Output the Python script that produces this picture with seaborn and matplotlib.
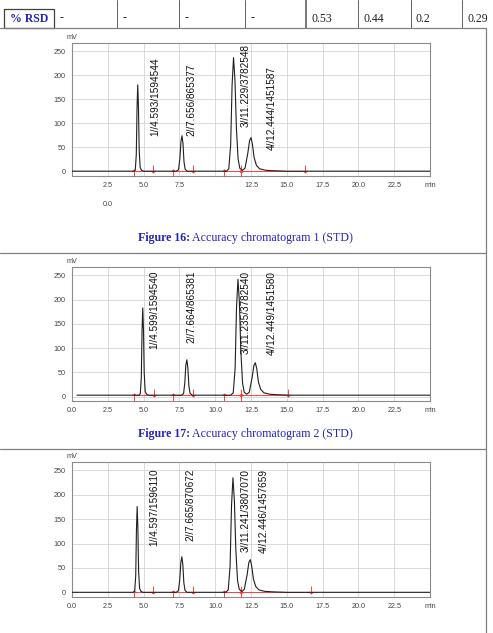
import numpy as np
import pandas as pd
import matplotlib.pyplot as plt
import seaborn as sns

sns.set_style("white")
plt.rcParams["font.family"] = ["Liberation Sans", "DejaVu Sans"]

## ---------------- data ----------------
# table row at the top of the page
rsd_cells = ["-", "-", "-", "-", "0.53", "0.44", "0.2", "0.29"]

# chromatogram traces (time in min, signal in mV)
t1 = [0, 4.33, 4.42, 4.49, 4.54, 4.59, 4.64, 4.69, 4.76, 4.85, 5.0,
      7.28, 7.44, 7.53, 7.61, 7.68, 7.75, 7.82, 7.9, 8.05,
      10.78, 10.95, 11.08, 11.18, 11.28, 11.38, 11.48, 11.6, 11.72, 11.9,
      12.08, 12.28, 12.4, 12.5, 12.6, 12.72, 12.88, 13.1, 13.5, 14.0, 15.0, 25.0]
y1 = [0, 0, 3, 35, 130, 180, 135, 45, 8, 2, 0,
      0, 3, 26, 62, 74, 58, 20, 4, 0,
      0, 5, 55, 180, 237, 190, 90, 25, 6, 2,
      6, 38, 64, 70, 56, 28, 12, 5, 2, 1, 0, 0]

t2 = [0.35, 4.68, 4.77, 4.84, 4.89, 4.94, 4.99, 5.04, 5.11, 5.2, 5.35,
      7.63, 7.79, 7.88, 7.95, 8.02, 8.09, 8.16, 8.24, 8.4,
      11.09, 11.26, 11.39, 11.49, 11.59, 11.69, 11.79, 11.91, 12.03, 12.2,
      12.38, 12.58, 12.7, 12.8, 12.9, 13.02, 13.18, 13.4, 13.8, 14.3, 15.3, 25.0]
y2 = [3, 3, 6, 40, 135, 183, 140, 50, 11, 5, 3,
      3, 6, 29, 65, 76, 60, 23, 7, 3,
      3, 8, 58, 185, 242, 195, 95, 28, 9, 5,
      9, 40, 64, 70, 58, 30, 15, 8, 5, 4, 3, 3]

t3 = [0, 4.29, 4.38, 4.45, 4.5, 4.55, 4.6, 4.65, 4.72, 4.81, 4.95,
      7.27, 7.43, 7.52, 7.6, 7.67, 7.74, 7.81, 7.89, 8.04,
      10.74, 10.91, 11.04, 11.14, 11.24, 11.34, 11.44, 11.56, 11.68, 11.86,
      12.03, 12.23, 12.35, 12.45, 12.55, 12.67, 12.83, 13.05, 13.45, 14.0, 15.0, 25.0]
y3 = [0, 0, 3, 34, 127, 176, 132, 44, 8, 2, 0,
      0, 3, 25, 61, 73, 57, 20, 4, 0,
      0, 5, 54, 178, 235, 188, 88, 24, 6, 2,
      6, 36, 61, 67, 54, 27, 12, 5, 2, 1, 0, 0]

# integration start / end marks (min)
starts1 = [4.36, 7.06, 10.6, 11.82]
ends1 = [5.64, 8.48, 11.82, 16.3]
starts2 = [4.34, 7.08, 10.58, 11.82]
ends2 = [5.76, 8.44, 11.82, 15.06]
starts3 = [4.34, 7.08, 10.58, 11.82]
ends3 = [5.69, 8.48, 11.82, 16.7]

# peak labels: peak/retention time/area
labels1 = ["1//4.593/1594544", "2//7.656/865377", "3//11.229/3782548", "4//12.444/1451587"]
labels2 = ["1//4.599/1594540", "2//7.664/865381", "3//11.235/3782540", "4//12.449/1451580"]
labels3 = ["1//4.597/1596110", "2//7.665/870672", "3//11.241/3807070", "4//12.446/1457659"]
label_x1 = [5.8, 8.37, 12.1, 13.97]
label_y1 = [74, 73, 93, 45]        # bottom of text
label_x2 = [5.76, 8.32, 12.1, 13.97]
label_y2 = [260, 260, 260, 260]    # top of text
label_x3 = [5.76, 8.25, 12.1, 13.38]
label_y3 = [254, 254, 254, 254]    # top of text

x_ticks = [0, 2.5, 5.0, 7.5, 10.0, 12.5, 15.0, 17.5, 20.0, 22.5, 25.0]
x_labels_full = ["0.0", "2.5", "5.0", "7.5", "10.0", "12.5", "15.0", "17.5", "20.0", "22.5", "min"]
x_labels_1 = ["", "2.5", "5.0", "7.5", "", "12.5", "15.0", "17.5", "20.0", "22.5", "min"]
y_ticks = [0, 50, 100, 150, 200, 250]

captions = [("Figure 16:", "Accuracy chromatogram 1 (STD)"),
            ("Figure 17:", "Accuracy chromatogram 2 (STD)")]

## ---------------- figure ----------------
W, H = 493, 633
fig = plt.figure(figsize=(W / 100, H / 100), dpi=100)
fig.patch.set_facecolor("white")

# page layer in pixel coordinates
page = fig.add_axes([0, 0, 1, 1])
page.set_xlim(0, W)
page.set_ylim(H, 0)
page.axis("off")

blue = "#2424b8"
serif = ["Liberation Serif", "DejaVu Serif"]

# table row
cell_lines = [54.3, 116.7, 179, 245, 306, 358.3, 410.5, 462.2]
for xv in cell_lines[1:]:
    lw = 1.2 if xv == 306 else 0.7
    page.plot([xv, xv], [0, 28.3], color="#606060", lw=lw)
page.plot([4, 54.3, 54.3, 4, 4], [8.5, 8.5, 28.3, 28.3, 8.5], color="#404040", lw=0.9)
page.plot([0, 486], [28.3, 28.3], color="#808080", lw=0.9)
page.text(29, 18.5, "% RSD", family=serif, fontsize=8.5, fontweight="bold",
          color=blue, ha="center", va="center")
cell_text_x = [60, 122.5, 184.5, 250.5, 311.5, 363.5, 415, 467.5]
for xv, s in zip(cell_text_x, rsd_cells):
    page.text(xv, 18.5, s, family=serif, fontsize=8.5, color="#222222",
              ha="left", va="center")

# right page border and separators
page.plot([486, 486], [28.3, H], color="#808080", lw=0.9)
page.plot([0, 486], [253.3, 253.3], color="#808080", lw=0.9)
page.plot([0, 486], [449, 449], color="#808080", lw=0.9)

# captions
for (bold, rest), yc in zip(captions, [238.5, 434.5]):
    page.text(190, yc, bold, family=serif, fontsize=8.6, fontweight="bold",
              color=blue, ha="right", va="center")
    page.text(192, yc, rest, family=serif, fontsize=8.6, color=blue,
              ha="left", va="center")

# stray "0.0" under chart 1
page.text(108, 204, "0.0", fontsize=5.2, color="#444444", ha="center", va="center")


def chromatogram(top_px, bottom_px, t, y, starts, ends, base, labels, lx, ly, va, xlabels):
    ax = fig.add_axes([72 / W, 1 - bottom_px / H, (430 - 72) / W, (bottom_px - top_px) / H])
    ax.set_xlim(0, 25)
    ax.set_ylim(-9, 268)
    ax.set_xticks(x_ticks)
    ax.set_xticklabels(xlabels)
    ax.set_yticks(y_ticks)
    ax.set_xticks(np.arange(0, 25.01, 0.5), minor=True)
    ax.set_yticks(np.arange(-5, 265, 10), minor=True)
    ax.grid(True, which="major", color="#d4d4d4", lw=0.6)
    for sp in ax.spines.values():
        sp.set_color("#8c8c8c")
        sp.set_linewidth(0.8)
    ax.tick_params(which="major", length=3, width=0.6, color="#555555",
                   labelsize=5.2, labelcolor="#444444", pad=1.5)
    ax.tick_params(which="minor", length=1.6, width=0.5, color="#555555")

    # red integration baselines and marks
    for s, e in zip(starts, ends):
        ax.plot([s, e], [base, base], color="#ff4040", lw=0.7)
    ax.scatter(starts, [base - 4] * len(starts), marker="$\\uparrow$", s=32,
               color="#ff3030", linewidths=0, zorder=4)
    ax.scatter(ends, [base + 4] * len(ends), marker="$\\downarrow$", s=32,
               color="#ff3030", linewidths=0, zorder=4)

    trace = pd.DataFrame({"t": t, "mV": y})
    sns.lineplot(data=trace, x="t", y="mV", ax=ax, color="#202020", lw=0.8,
                 estimator=None, sort=False, zorder=5)
    ax.set_xlabel("")
    ax.set_ylabel("")

    for s, xv, yv in zip(labels, lx, ly):
        ax.text(xv, yv, s, rotation=90, fontsize=7.2, color="#111111",
                ha="center", va=va, zorder=6)
    ax.text(0, 1.01, "mV", transform=ax.transAxes, fontsize=5.2,
            color="#444444", ha="center", va="bottom")
    return ax


chromatogram(42.7, 175.5, t1, y1, starts1, ends1, 0, labels1, label_x1, label_y1, "bottom", x_labels_1)
chromatogram(266.7, 401, t2, y2, starts2, ends2, 3, labels2, label_x2, label_y2, "top", x_labels_full)
chromatogram(461.7, 596.7, t3, y3, starts3, ends3, 0, labels3, label_x3, label_y3, "top", x_labels_full)

plt.savefig("out.png", dpi=100)
